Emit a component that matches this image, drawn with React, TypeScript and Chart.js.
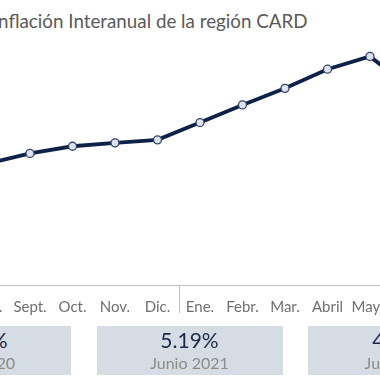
import React, { useEffect, useRef } from "react";
import { Chart, registerables } from "chart.js";

Chart.register(...registerables);

const months = ["Jul.", "Ago.", "Sept.", "Oct.", "Nov.", "Dic.", "Ene.", "Febr.", "Mar.", "Abril", "Mayo", "Junio", "Julio"];
const inflation = [3.05, 3.23, 3.5, 3.69, 3.78, 3.86, 4.32, 4.79, 5.23, 5.74, 6.08, 5.19, 4.62];
const boxValues = ["3.05%", "5.19%", "4.62%"];
const boxLabels = ["Julio 2020", "Junio 2021", "Julio 2021"];
const titleText = "Inflación Interanual de la región CARD";

const FONT = "Lato, 'Noto Sans', sans-serif";
const NAVY = "#0e2247";

const separatorPlugin = {
  id: "yearSeparator",
  afterDraw(chart: any) {
    const x = chart.scales.x;
    const a = x.getPixelForValue(5);
    const b = x.getPixelForValue(6);
    const px = Math.round((a + b) / 2) + 0.5;
    const ctx = chart.ctx;
    ctx.save();
    ctx.strokeStyle = "#bfbfbf";
    ctx.lineWidth = 1;
    ctx.beginPath();
    ctx.moveTo(px, chart.chartArea.bottom);
    ctx.lineTo(px, chart.chartArea.bottom + 28);
    ctx.stroke();
    ctx.restore();
  },
};

export default function App() {
  const ref = useRef<HTMLCanvasElement | null>(null);
  useEffect(() => {
    if (!ref.current) return;
    const chart = new Chart(ref.current, {
      type: "line",
      data: {
        labels: months,
        datasets: [
          {
            data: inflation,
            borderColor: NAVY,
            borderWidth: 3.8,
            pointRadius: 4,
            pointBackgroundColor: "#dce3ef",
            pointBorderColor: "#34466a",
            pointBorderWidth: 1.3,
            tension: 0,
          },
        ],
      },
      options: {
        animation: false,
        responsive: false,
        maintainAspectRatio: false,
        layout: { padding: { left: 23.75, right: 23.75, top: 40.6, bottom: 0 } },
        plugins: { legend: { display: false }, tooltip: { enabled: false }, title: { display: false } },
        scales: {
          y: { display: false, min: 0, max: 6.5 },
          x: {
            offset: true,
            grid: { display: false, drawTicks: false },
            border: { display: true, color: "#bfbfbf", width: 1 },
            ticks: { color: "#6f6f6f", font: { family: FONT, size: 15 }, padding: 13, maxRotation: 0, autoSkip: false },
          },
        },
      },
      plugins: [separatorPlugin],
    });
    return () => chart.destroy();
  }, []);

  const boxLefts = [-114.6, 96.5, 308.3];
  return (
    <div style={{ position: "fixed", left: 0, top: 0, width: 380, height: 380, overflow: "hidden", background: "#fff", fontFamily: FONT }}>
      <div style={{ position: "absolute", left: -7, top: 9, fontSize: 18.8, color: "#5a5a5a", whiteSpace: "nowrap", fontWeight: 400 }}>
        {titleText}
      </div>
      <canvas ref={ref} width={600} height={329} style={{ position: "absolute", left: -100, top: 0, width: 600, height: 329 }} />
      {boxValues.map((v, i) => (
        <div
          key={i}
          style={{
            position: "absolute",
            left: boxLefts[i],
            top: 326,
            width: 186,
            height: 49,
            background: "#d6dce4",
            textAlign: "center",
          }}
        >
          <div style={{ fontSize: 21, color: "#1a2a48", lineHeight: "21px", marginTop: 3 }}>{v}</div>
          <div style={{ fontSize: 16, color: "#8c8c8c", lineHeight: "16px", marginTop: 5 }}>{boxLabels[i]}</div>
        </div>
      ))}
    </div>
  );
}
